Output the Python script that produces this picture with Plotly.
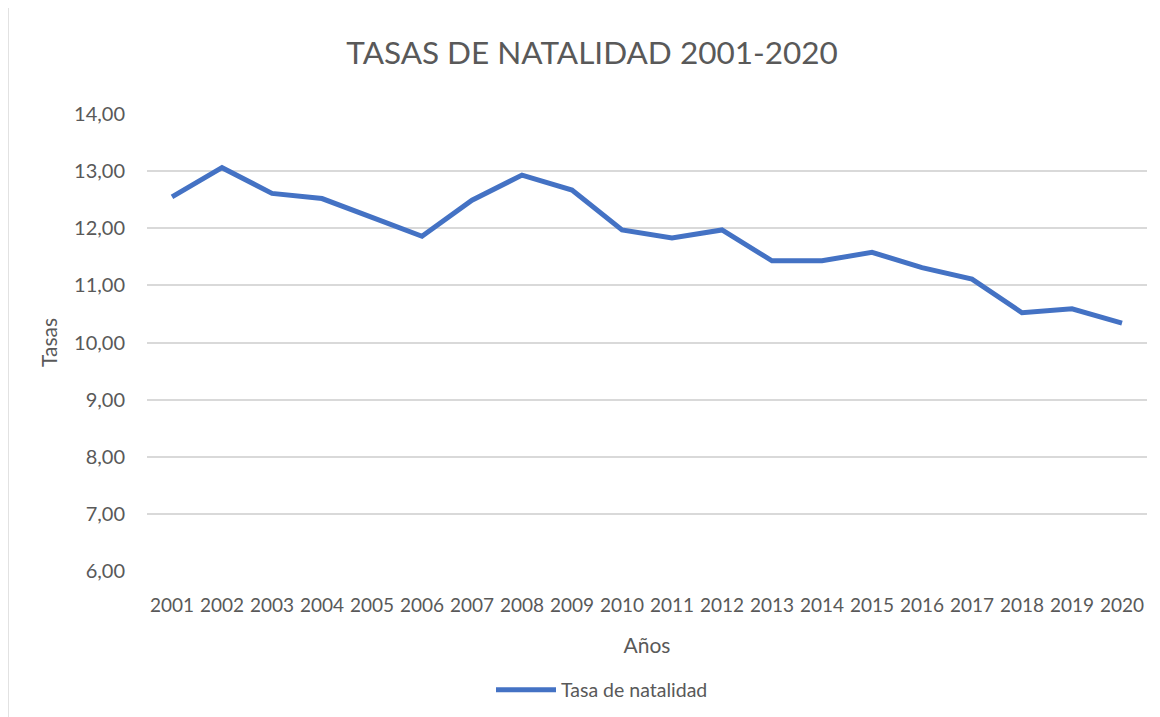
import plotly.graph_objects as go

years = [str(y) for y in range(2001, 2021)]
tasas = [12.55, 13.06, 12.61, 12.52, 12.19, 11.86, 12.49, 12.93, 12.67, 11.97,
         11.83, 11.97, 11.43, 11.43, 11.58, 11.31, 11.11, 10.52, 10.59, 10.34]
series_name = "Tasa de natalidad"
y_ticks = [6, 7, 8, 9, 10, 11, 12, 13, 14]

FONT = "Lato"
GRAY = "#595959"
ML, MR, MT, MB = 139, 21, 106, 154
PLOT_H = 717 - MT - MB
PLOT_W = 1160 - ML - MR

fig = go.Figure()
fig.add_trace(go.Scatter(
    x=years, y=tasas, mode="lines", name=series_name,
    line=dict(color="#4472C4", width=5), showlegend=True,
))

fig.update_layout(
    width=1160, height=717,
    paper_bgcolor="white", plot_bgcolor="white",
    margin=dict(l=ML, r=MR, t=MT, b=MB, autoexpand=False),
    separators=",.",
    font=dict(family=FONT, color=GRAY, size=17),
    title=dict(text="TASAS DE NATALIDAD 2001-2020", x=(592 - 8) / 1160, xanchor="center",
               y=1 - 45 / 717, yanchor="middle",
               font=dict(family=FONT, size=31.5, color=GRAY)),
    xaxis=dict(
        type="category", range=[-0.5, 19.5], automargin=False,
        showgrid=False, showline=False, zeroline=False,
        ticks="outside", ticklen=17, tickcolor="rgba(0,0,0,0)",
        tickfont=dict(size=19, color=GRAY),
        title=dict(text="Años", font=dict(size=21, color=GRAY), standoff=23),
    ),
    yaxis=dict(
        range=[6, 14], tickvals=y_ticks, tickformat=".2f", automargin=False,
        showgrid=True, gridcolor="#d9d9d9", gridwidth=1.5,
        showline=False, zeroline=False,
        ticks="outside", ticklen=17, tickcolor="rgba(0,0,0,0)",
        tickfont=dict(size=20, color=GRAY),
        title=dict(text="Tasas", font=dict(size=21, color=GRAY), standoff=10),
    ),
    legend=dict(orientation="h", x=(602 - 8 - ML) / PLOT_W, xanchor="center",
                y=(571 - 690) / PLOT_H, yanchor="middle",
                font=dict(size=19.5, color=GRAY), itemwidth=60),
)

fig.add_shape(type="line", xref="paper", yref="paper",
              x0=-ML / PLOT_W, x1=-ML / PLOT_W,
              y0=-MB / PLOT_H, y1=(717 - MB) / PLOT_H + 0.3,
              line=dict(color="#d9d9d9", width=1.5))

fig.write_html("out.html")
